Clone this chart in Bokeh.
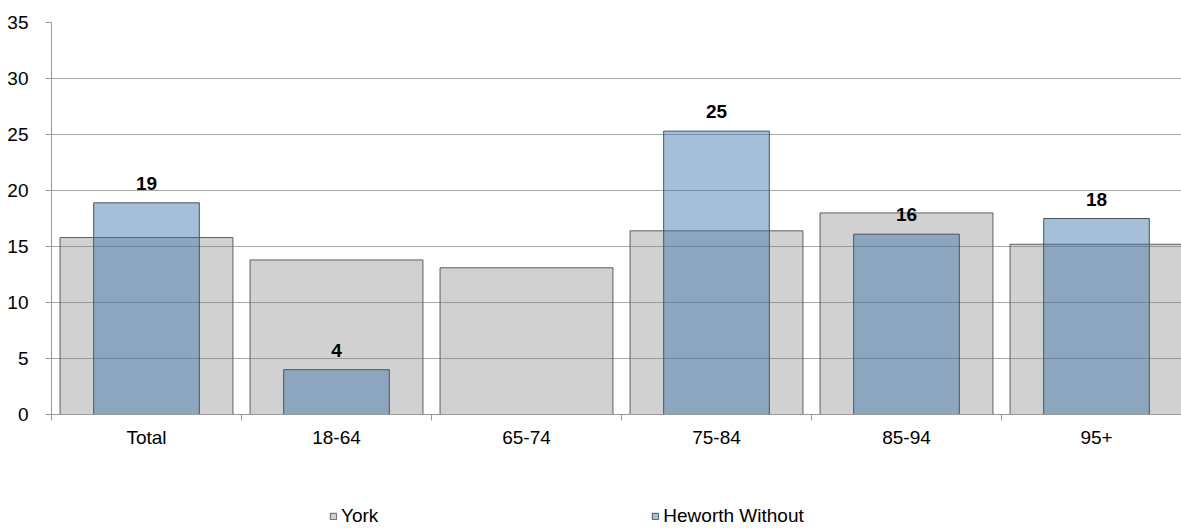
from bokeh.plotting import figure
from bokeh.layouts import column
from bokeh.models import (ColumnDataSource, FixedTicker, Legend, LegendItem,
                          LabelSet, Range1d)
from bokeh.core.properties import value
from bokeh.embed import file_html
from bokeh.resources import INLINE

categories = ["Total", "18-64", "65-74", "75-84", "85-94", "95+"]
york = [15.8, 13.8, 13.1, 16.4, 18.0, 15.2]
heworth = [18.9, 4.0, None, 25.3, 16.1, 17.5]
heworth_labels = ["19", "4", "", "25", "16", "18"]
y_ticks = [0, 5, 10, 15, 20, 25, 30, 35]
series_names = ["York", "Heworth Without"]

FONT = "Liberation Sans"
YORK_STYLE = dict(fill_color="#808080", fill_alpha=0.36, line_color="#5e5e5e", line_width=1)
HEW_STYLE = dict(fill_color="#3A70AA", fill_alpha=0.45, line_color="#4d5258", line_width=1)

centers = [i + 0.5 for i in range(len(categories))]
york_src = ColumnDataSource(dict(x=centers, top=york))
hx, ht, hl = [], [], []
for c, v, l in zip(centers, heworth, heworth_labels):
    if v is not None:
        hx.append(c); ht.append(v); hl.append(l)
hew_src = ColumnDataSource(dict(x=hx, top=ht, label=hl))

p = figure(width=1181, height=470, output_backend="svg", toolbar_location=None,
           x_range=Range1d(0, 1130 / 190), y_range=Range1d(0, 35),
           min_border_left=51, min_border_right=0, min_border_top=22,
           min_border_bottom=56)
p.outline_line_color = None
p.background_fill_color = "white"
p.border_fill_color = "white"

# grid
p.xgrid.visible = False
p.ygrid.ticker = FixedTicker(ticks=y_ticks)
p.ygrid.grid_line_color = "#a6a6a6"

# bars
p.vbar(x="x", top="top", width=0.91, source=york_src, **YORK_STYLE)
p.vbar(x="x", top="top", width=0.556, source=hew_src, **HEW_STYLE)

labels = LabelSet(x="x", y="top", text="label", source=hew_src,
                  y_offset=13, text_align="center", text_baseline="alphabetic",
                  text_font=value(FONT), text_font_size=value("19px"),
                  text_font_style=value("bold"), text_color=value("black"))
p.add_layout(labels)

# y axis
p.yaxis.ticker = FixedTicker(ticks=y_ticks)
p.yaxis.axis_line_color = "#999999"
p.yaxis.major_tick_line_color = "#999999"
p.yaxis.major_tick_out = 6
p.yaxis.major_tick_in = 0
p.yaxis.minor_tick_line_color = None
p.yaxis.major_label_standoff = 17
p.yaxis.major_label_text_font = FONT
p.yaxis.major_label_text_font_size = "19px"
p.yaxis.major_label_text_color = "black"

# x axis
p.xaxis.ticker = FixedTicker(ticks=centers, minor_ticks=list(range(len(categories) + 1)))
p.xaxis.major_label_overrides = {c: n for c, n in zip(centers, categories)}
p.xaxis.axis_line_color = "#999999"
p.xaxis.major_tick_line_color = None
p.xaxis.major_tick_out = 0
p.xaxis.major_tick_in = 0
p.xaxis.minor_tick_line_color = "#999999"
p.xaxis.minor_tick_out = 6
p.xaxis.minor_tick_in = 0
p.xaxis.major_label_standoff = 6
p.xaxis.major_label_text_font = FONT
p.xaxis.major_label_text_font_size = "19px"
p.xaxis.major_label_text_color = "black"

# legend strip (same series renderers, kept out of its visible range)
q = figure(width=1181, height=58, output_backend="svg", toolbar_location=None,
           x_range=Range1d(100, 101), y_range=Range1d(100, 101),
           min_border=0, min_border_left=0, min_border_right=0,
           min_border_top=0, min_border_bottom=0)
q.axis.visible = False
q.grid.visible = False
q.outline_line_color = None
q.background_fill_color = "white"
q.border_fill_color = "white"
ry = q.vbar(x="x", top="top", width=0.91, source=york_src, **YORK_STYLE)
rh = q.vbar(x="x", top="top", width=0.556, source=hew_src, **HEW_STYLE)
legend = Legend(items=[LegendItem(label=series_names[0], renderers=[ry]),
                       LegendItem(label=series_names[1], renderers=[rh])],
                location=(278, 1), orientation="horizontal",
                glyph_width=8, glyph_height=8, label_standoff=4, spacing=273,
                padding=0, margin=0, border_line_color=None,
                background_fill_alpha=0,
                label_text_font=FONT, label_text_font_size="19px",
                label_text_color="black")
q.add_layout(legend)

open("out.html", "w").write(file_html(column(p, q, spacing=0), INLINE))
